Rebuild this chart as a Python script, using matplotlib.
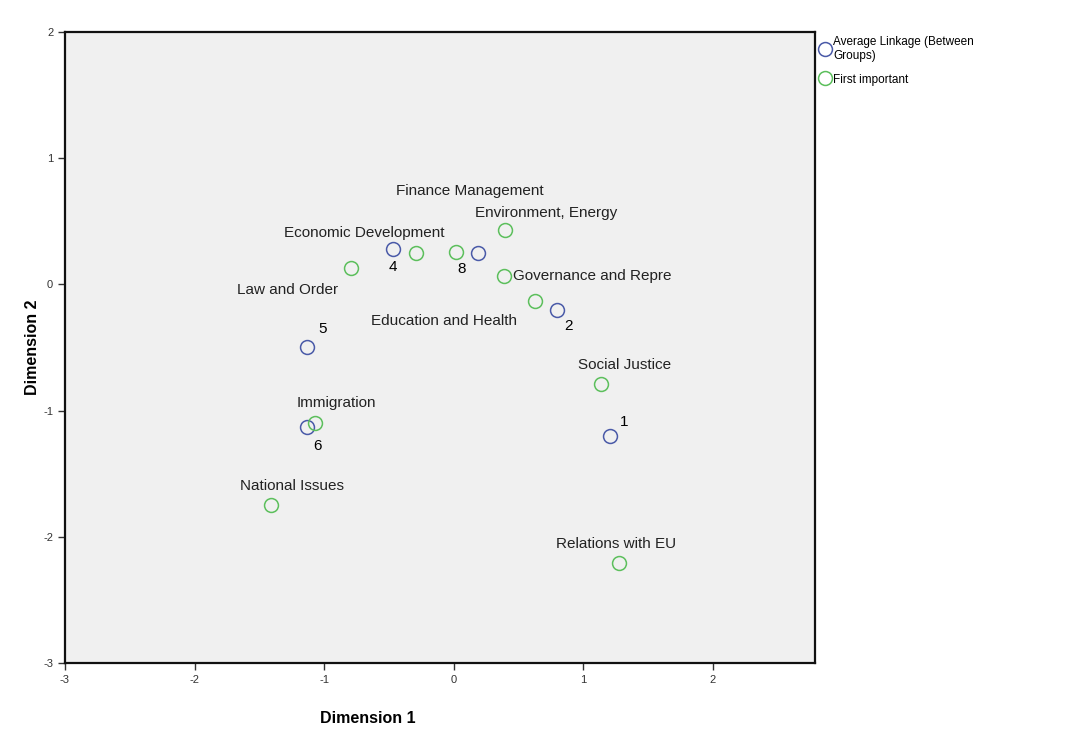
import matplotlib.pyplot as plt

plt.rcParams['font.family'] = ['Liberation Sans', 'DejaVu Sans']
plt.rcParams['axes.unicode_minus'] = False

# --- DATA ---
# clusters (Average Linkage, Between Groups)
cluster_ids = ["4", "8", "2", "5", "6", "1"]
cluster_x = [-0.47, 0.19, 0.80, -1.13, -1.13, 1.21]
cluster_y = [0.28, 0.25, -0.20, -0.50, -1.13, -1.20]

# issues (First important)
issue_names = ["Law and Order", "Economic Development", "Finance Management",
               "Environment, Energy", "Governance and Repre", "Education and Health",
               "Social Justice", "Immigration", "National Issues", "Relations with EU"]
issue_x = [-0.79, -0.29, 0.02, 0.40, 0.39, 0.63, 1.14, -1.07, -1.41, 1.28]
issue_y = [0.13, 0.25, 0.26, 0.43, 0.07, -0.13, -0.79, -1.10, -1.75, -2.21]

# label placement (pixels from the point) and alignment
cluster_offsets = [(0, -18), (-17, -16), (11, -16), (15, 18), (10, -19), (14, 14)]
issue_offsets = [(-64, -22), (-52, 20), (14, 61), (41, 17), (9, 0),
                 (-91, -20), (23, 19), (21, 20), (21, 19), (-3, 19)]
issue_ha = ["center"] * 4 + ["left"] + ["center"] * 5

BLUE = "#4a5aa8"
GREEN = "#5cbf5c"

# --- PLOT ---
fig = plt.figure(figsize=(10.84, 7.45), dpi=100)
ax = fig.add_axes([65 / 1084, 1 - 663 / 745, 750 / 1084, 631 / 745])
ax.set_facecolor("#f0f0f0")

ax.plot(cluster_x, cluster_y, "o", ms=10, mfc="none", mec=BLUE, mew=1.1,
        label="Average Linkage (Between\nGroups)")
ax.plot(issue_x, issue_y, "o", ms=10, mfc="none", mec=GREEN, mew=1.1,
        label="First important")

for name, x, y, off in zip(cluster_ids, cluster_x, cluster_y, cluster_offsets):
    ax.annotate(name, (x, y), xytext=off, textcoords="offset pixels",
                ha="center", va="center", fontsize=11)
for name, x, y, off, ha in zip(issue_names, issue_x, issue_y, issue_offsets, issue_ha):
    ax.annotate(name, (x, y), xytext=off, textcoords="offset pixels",
                ha=ha, va="center", fontsize=11, color="#222222")

ax.set_xlim(-3, 2.79)
ax.set_ylim(-3, 2)
ax.set_xticks([-3, -2, -1, 0, 1, 2])
ax.set_yticks([-3, -2, -1, 0, 1, 2])
ax.tick_params(direction="out", length=5, width=1, labelsize=8, colors="#333333")

for s in ax.spines.values():
    s.set_linewidth(1.6)
    s.set_color("#111111")

ax.set_xlabel("Dimension 1", fontsize=11.5, fontweight="bold")
ax.xaxis.set_label_coords(0.404, -0.076)
ax.set_ylabel("Dimension 2", fontsize=11.5, fontweight="bold")
ax.yaxis.set_label_coords(-0.033, 0.5)

ax.legend(loc="upper left", bbox_to_anchor=(0.997, 1.003), frameon=False,
          fontsize=8.5, handletextpad=0.25, handlelength=1.0, borderaxespad=0.3,
          labelspacing=1.0, borderpad=0.2)

fig.savefig("out.png", dpi=100)
